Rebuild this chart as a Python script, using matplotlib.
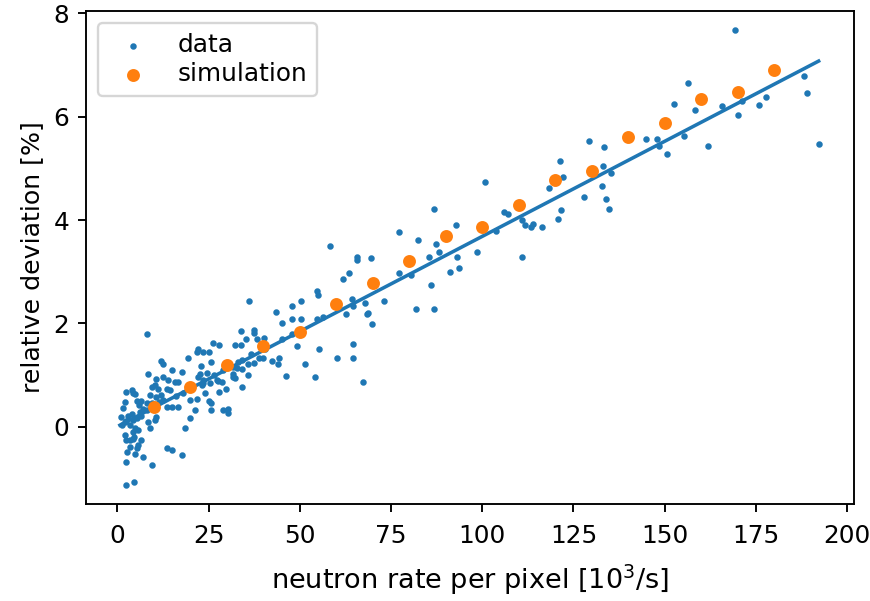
import matplotlib
matplotlib.use('Agg')
import matplotlib.pyplot as plt
import numpy as np

# measured points (x in 10^3/s, y in %)
data_x = [169.3, 156.5, 152.5, 158.4, 165.6, 171.1, 170.1, 175.9, 177.8, 188.2, 189.1, 192.2,
          144.8, 148.0, 148.4, 150.6, 155.2, 162.0, 133.5, 133.0, 135.3, 132.7, 133.9, 134.8,
          129.3, 121.3, 122.2, 118.4, 100.7, 128.0, 121.7, 120.8, 106.1, 107.1, 110.8, 111.7,
          113.5, 114.0, 116.3, 103.7, 92.7, 93.1, 98.5, 110.8, 93.6, 91.1,
          86.8, 77.3, 82.3, 87.2, 88.1, 85.4, 77.3, 80.5, 85.9, 81.8, 86.8, 58.3, 65.6, 65.6,
          69.6, 63.6, 61.9, 54.6, 55.0, 64.2, 64.6, 67.8, 73.2, 62.8, 68.3, 68.8, 69.7, 54.6,
          56.4, 55.2, 64.6, 60.2, 64.6, 54.2, 67.3,
          36.0, 43.4, 47.9, 50.2, 45.2, 47.9, 50.2, 33.9, 37.5, 37.5, 40.2, 35.2, 38.4, 33.9,
          32.2, 49.2, 38.9, 39.8, 42.5, 44.4, 43.9, 37.5, 35.7, 34.3, 51.5, 34.3, 35.7, 46.1,
          34.3, 32.2,
          26.3, 27.8, 21.7, 22.1, 23.5, 25.1, 19.4, 22.9, 25.6, 14.9, 17.6, 24.5, 31.7, 32.7,
          22.1, 13.9, 15.8, 16.7, 27.6, 23.1, 13.5, 14.4, 24.0, 27.9, 29.7, 19.9, 21.7, 25.2,
          25.6, 25.8, 21.2, 16.7, 14.9, 29.0, 30.2, 30.4, 19.9, 18.5, 13.5, 14.9, 17.6,
          22.6, 23.5, 23.4, 25.4, 27.2, 28.8, 31.6, 31.6,
          8.0, 12.1, 12.6, 8.4, 12.6, 10.3, 9.4, 11.2, 2.5, 3.9, 4.3, 4.8, 2.2, 5.3, 6.6, 6.0,
          8.0, 8.9, 10.7, 12.1, 13.5, 1.6, 8.0, 6.2, 0.9, 2.5, 4.2, 5.3, 6.6, 10.7, 10.3, 1.2,
          3.4, 4.8, 5.7, 4.3, 8.9, 8.4, 2.1, 2.5, 3.4, 4.3, 6.6, 5.7, 5.3, 2.7, 7.1, 4.8, 2.5,
          9.4, 2.5, 4.5, 10.7,
          2.0, 3.0, 4.0, 7.0, 9.5, 11.5, 12.5, 3.6, 4.6, 16.0, 18.0, 20.5, 26.5, 29.0, 33.0,
          36.5, 40.5, 45.0, 48.0]
data_y = [7.68, 6.66, 6.24, 6.14, 6.20, 6.30, 6.04, 6.23, 6.39, 6.78, 6.46, 5.47,
          5.56, 5.56, 5.43, 5.28, 5.63, 5.44, 5.41, 5.05, 4.92, 4.66, 4.41, 4.22,
          5.53, 5.15, 4.83, 4.63, 4.73, 4.44, 4.19, 4.03, 4.16, 4.12, 4.00, 3.90,
          3.86, 3.92, 3.87, 3.79, 3.90, 3.29, 3.39, 3.29, 3.07, 3.00,
          4.22, 3.77, 3.61, 3.54, 3.38, 3.29, 2.97, 2.94, 2.75, 2.27, 2.27, 3.49, 3.29, 3.23,
          3.26, 2.97, 2.85, 2.63, 2.55, 2.47, 2.34, 2.40, 2.43, 2.18, 2.18, 2.21, 1.98, 2.08,
          2.13, 1.50, 1.60, 1.34, 1.34, 0.96, 0.86,
          2.43, 2.23, 2.33, 2.43, 2.01, 2.08, 2.08, 1.85, 1.88, 1.82, 1.72, 1.69, 1.69, 1.59,
          1.59, 1.56, 1.34, 1.34, 1.27, 1.34, 1.21, 1.24, 1.21, 1.30, 1.21, 1.11, 1.01, 0.98,
          0.76, 0.94,
          1.63, 1.58, 1.45, 1.50, 1.45, 1.45, 1.34, 1.17, 1.26, 1.10, 1.06, 1.04, 1.16, 1.13,
          0.97, 0.90, 0.87, 0.87, 0.88, 0.81, 0.73, 0.71, 0.65, 0.68, 0.73, 0.52, 0.54, 0.50,
          0.46, 0.32, 0.32, 0.38, 0.38, 0.32, 0.34, 0.27, 0.16, -0.03, -0.41, -0.45, -0.55,
          1.03, 0.90, 0.84, 0.84, 0.90, 0.86, 0.96, 1.02,
          1.79, 1.28, 1.21, 1.03, 0.97, 0.81, 0.77, 0.74, 0.68, 0.71, 0.65, 0.63, 0.48, 0.50, 0.50, 0.42,
          0.46, 0.61, 0.58, 0.61, 0.39, 0.36, 0.32, 0.29, 0.18, 0.12, 0.13, 0.16, 0.21, 0.18, 0.13, 0.03,
          0.03, -0.03, -0.06, -0.10, -0.03, 0.10, -0.16, -0.26, -0.26, -0.24, -0.26, -0.35, -0.42, -0.48, -0.58, -0.52, -0.68,
          -0.74, -1.13, -1.06, 0.92,
          0.10, 0.20, 0.25, 0.35, 0.45, 0.48, 0.52, -0.40, -0.20, 0.60, 0.65, 0.78, 1.00, 1.10, 1.25,
          1.40, 1.50, 1.70, 1.80]

sim_x = [10, 20, 30, 40, 50, 60, 70, 80, 90, 100, 110, 120, 130, 140, 150, 160, 170, 180]
sim_y = [0.38, 0.77, 1.19, 1.56, 1.83, 2.37, 2.78, 3.20, 3.69, 3.86, 4.29, 4.77, 4.95,
         5.60, 5.87, 6.34, 6.47, 6.90]

# linear fit
fit_slope = 0.0368
fit_intercept = 0.004

fig, ax = plt.subplots(figsize=(871 / 170, 601 / 170), dpi=170)
fig.subplots_adjust(left=0.0987, right=0.9805, top=0.982, bottom=0.161)

ax.scatter(data_x, data_y, s=3.0, color='C0', label='data')
fit_x = np.array([0.7, max(data_x)])
ax.plot(fit_x, fit_intercept + fit_slope * fit_x, color='C0')
ax.scatter(sim_x, sim_y, s=20, color='C1', label='simulation', zorder=3)

ax.set_xlim(-8.6, 201.9)
ax.set_ylim(-1.5, 8.05)
ax.set_xticks([0, 25, 50, 75, 100, 125, 150, 175, 200])
ax.tick_params(labelsize=10.5)
ax.tick_params(axis='x', pad=5.0)
ax.set_xlabel('neutron rate per pixel [10$^3$/s]', fontsize=11.5, labelpad=6)
ax.set_ylabel('relative deviation [%]', fontsize=10.7)
ax.legend(loc='upper left', fontsize=10.5, labelspacing=0.2)

fig.savefig('out.png', dpi=170)
